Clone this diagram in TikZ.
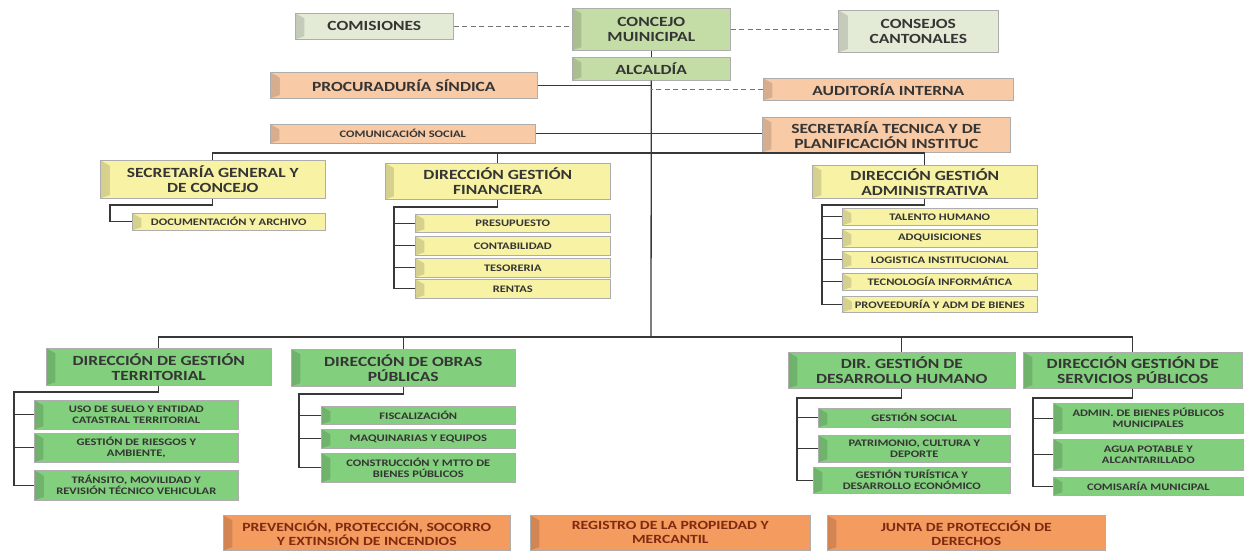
\documentclass[tikz,border=0pt]{standalone}
\usepackage{fontspec}
\setmainfont{Carlito}[FakeStretch=1.25]
\usetikzlibrary{calc}
\definecolor{lgr}{HTML}{E3EBD6}
\definecolor{mgr}{HTML}{C4DDA6}
\definecolor{pch}{HTML}{F8CAA6}
\definecolor{yel}{HTML}{F7F2A4}
\definecolor{grn}{HTML}{82CF7D}
\definecolor{org}{HTML}{F49B60}
\definecolor{txt}{HTML}{353535}
\definecolor{otx}{HTML}{7D2A10}
\newcommand\myhd{\bfseries\fontsize{14}{15}\selectfont}
\newcommand\mysb{\bfseries\fontsize{10}{11}\selectfont}
\newcommand\mybt{\bfseries\fontsize{12.5}{14}\selectfont}
\begin{document}
\begin{tikzpicture}[x=1pt,y=-1pt,
  bx/.style 2 args={draw=black!32, line width=0.6pt, fill=#1, text=#2, align=center,
    inner sep=1pt, anchor=north west,
    path picture={\shade[left color=#1!86!black, right color=#1]
      (path picture bounding box.north west) -- ([xshift=9pt,yshift=-5pt]path picture bounding box.north west)
      -- ([xshift=9pt,yshift=3pt]path picture bounding box.south west) -- (path picture bounding box.south west) -- cycle;}},
  conn/.style={line width=1.3pt, draw=black!78},
  dsh/.style={line width=1pt, draw=black!55, dash pattern=on 5pt off 3.5pt},
  hd/.style={font=\myhd},
  sb/.style={font=\mysb},
  bt/.style={font=\mybt},
  wh/.style 2 args={minimum width=#1pt, minimum height=#2pt}
]
\useasboundingbox (0,0) rectangle (1245,552);
% ---------- top ----------
\node[bx={lgr}{txt}, hd, wh={158}{26}] (com) at (295,13) {COMISIONES};
\node[bx={mgr}{txt}, hd, wh={158}{42}] (conc) at (572,8) {CONCEJO\\MUINICIPAL};
\node[bx={lgr}{txt}, hd, wh={160}{42}] (cons) at (838,10) {CONSEJOS\\CANTONALES};
\node[bx={mgr}{txt}, hd, wh={158}{23}] (alc) at (572,57) {ALCALDÍA};
\node[bx={pch}{txt}, hd, wh={267}{26}] (proc) at (270,72) {PROCURADURÍA SÍNDICA};
\node[bx={pch}{txt}, hd, wh={250}{22}] (aud) at (763,78) {AUDITORÍA INTERNA};
\node[bx={pch}{txt}, sb, wh={265}{19}] (comu) at (270,124) {COMUNICACIÓN SOCIAL};
\node[bx={pch}{txt}, hd, wh={248}{35}] (stec) at (762,117) {SECRETARÍA TECNICA Y DE\\PLANIFICACIÓN INSTITUC};
% ---------- yellow ----------
\node[bx={yel}{txt}, hd, wh={225}{38}] (sg) at (100,160) {SECRETARÍA GENERAL Y\\DE CONCEJO};
\node[bx={yel}{txt}, hd, wh={225}{36}] (dgf) at (385,163) {DIRECCIÓN GESTIÓN\\FINANCIERA};
\node[bx={yel}{txt}, hd, wh={225}{33}] (dga) at (812,165) {DIRECCIÓN GESTIÓN\\ADMINISTRATIVA};
\node[bx={yel}{txt}, sb, wh={193}{17}] (doc) at (132,213) {DOCUMENTACIÓN Y ARCHIVO};
\node[bx={yel}{txt}, sb, wh={195}{18}] (pres) at (415,214) {PRESUPUESTO};
\node[bx={yel}{txt}, sb, wh={195}{19}] (cont) at (415,236) {CONTABILIDAD};
\node[bx={yel}{txt}, sb, wh={195}{19}] (teso) at (415,258) {TESORERIA};
\node[bx={yel}{txt}, sb, wh={195}{19}] (rent) at (415,279) {RENTAS};
\node[bx={yel}{txt}, sb, wh={195}{17}] (tal) at (842,208) {TALENTO HUMANO};
\node[bx={yel}{txt}, sb, wh={195}{18}] (adq) at (842,229) {ADQUISICIONES};
\node[bx={yel}{txt}, sb, wh={195}{17}] (logi) at (842,251) {LOGISTICA INSTITUCIONAL};
\node[bx={yel}{txt}, sb, wh={195}{17}] (tec) at (842,273) {TECNOLOGÍA INFORMÁTICA};
\node[bx={yel}{txt}, sb, wh={195}{16}] (prov) at (842,296) {PROVEEDURÍA Y ADM DE BIENES};
% ---------- green ----------
\node[bx={grn}{txt}, hd, wh={225}{37}] (dgt) at (46,348) {DIRECCIÓN DE GESTIÓN\\TERRITORIAL};
\node[bx={grn}{txt}, hd, wh={224}{37}] (dop) at (291,349) {DIRECCIÓN DE OBRAS\\PÚBLICAS};
\node[bx={grn}{txt}, hd, wh={227}{36}] (dgdh) at (788,352) {DIR. GESTIÓN DE\\DESARROLLO HUMANO};
\node[bx={grn}{txt}, hd, wh={219}{36}] (dgsp) at (1023,352) {DIRECCIÓN GESTIÓN DE\\SERVICIOS PÚBLICOS};
\node[bx={grn}{txt}, sb, wh={204}{29}] (uso) at (34,400) {USO DE SUELO Y ENTIDAD\\CATASTRAL TERRITORIAL};
\node[bx={grn}{txt}, sb, wh={204}{29}] (rie) at (34,433) {GESTIÓN DE RIESGOS Y\\AMBIENTE,};
\node[bx={grn}{txt}, sb, wh={204}{30}] (tra) at (34,470) {TRÁNSITO, MOVILIDAD Y\\REVISIÓN TÉCNICO VEHICULAR};
\node[bx={grn}{txt}, sb, wh={194}{18}] (fis) at (321,406) {FISCALIZACIÓN};
\node[bx={grn}{txt}, sb, wh={194}{19}] (maq) at (321,429) {MAQUINARIAS Y EQUIPOS};
\node[bx={grn}{txt}, sb, wh={194}{29}] (cmt) at (321,453) {CONSTRUCCIÓN Y MTTO DE\\BIENES PÚBLICOS};
\node[bx={grn}{txt}, sb, wh={192}{19}] (gs) at (818,408) {GESTIÓN SOCIAL};
\node[bx={grn}{txt}, sb, wh={192}{27}] (pat) at (818,435) {PATRIMONIO, CULTURA Y\\DEPORTE};
\node[bx={grn}{txt}, sb, wh={197}{26}] (tur) at (813,467) {GESTIÓN TURÍSTICA Y\\DESARROLLO ECONÓMICO};
\node[bx={grn}{txt}, sb, wh={190}{30}] (adm) at (1053,403) {ADMIN. DE BIENES PÚBLICOS\\MUNICIPALES};
\node[bx={grn}{txt}, sb, wh={190}{31}] (agua) at (1053,439) {AGUA POTABLE Y\\ALCANTARILLADO};
\node[bx={grn}{txt}, sb, wh={190}{18}] (comis) at (1053,477) {COMISARÍA MUNICIPAL};
% ---------- bottom ----------
\node[bx={org}{otx}, bt, wh={287}{35}] (prev) at (223,515) {PREVENCIÓN, PROTECCIÓN, SOCORRO\\Y EXTINSIÓN DE INCENDIOS};
\node[bx={org}{otx}, bt, wh={280}{35}] (reg) at (530,515) {REGISTRO DE LA PROPIEDAD Y\\MERCANTIL};
\node[bx={org}{otx}, bt, wh={278}{35}] (jun) at (827,515) {JUNTA DE PROTECCIÓN DE\\DERECHOS};
% ---------- coordinates ----------
\coordinate (trunkend) at (651,337);
\coordinate (bus1) at (0,153);
\coordinate (bus2) at (0,337);
\coordinate (sgsp) at (110,205);
\coordinate (dgfsp) at (394,207);
\coordinate (dgasp) at (822,205);
\coordinate (dgtsp) at (14,392);
\coordinate (dopsp) at (299,394);
\coordinate (dgdhsp) at (797,398);
\coordinate (dgspsp) at (1033,398);
% ---------- connectors ----------
\draw[dsh] (com.east) -- (conc.west |- com.east);
\draw[dsh] (conc.east) -- (cons.west |- conc.east);
\draw[conn] (conc.south) -- (alc.north);
\draw[conn] (alc.south) -- (trunkend);
\draw[conn] (proc.east) -- (proc.east -| trunkend);
\draw[dsh] (aud.west) -- (aud.west -| trunkend);
\draw[conn] (comu.east) -- (comu.east -| stec.west);
\draw[conn] (sg.north) -- (sg.north |- bus1) -- (dga.north |- bus1) -- (dga.north);
\draw[conn] (dgf.north) -- (dgf.north |- bus1);
\draw[conn] (sg.south) |- (sgsp) |- (doc.west);
\draw[conn] (dgf.south) |- (dgfsp) |- (rent.west);
\foreach \n in {pres,cont,teso} \draw[conn] (dgfsp |- \n.west) -- (\n.west);
\draw[conn] (dga.south) |- (dgasp) |- (prov.west);
\foreach \n in {tal,adq,logi,tec} \draw[conn] (dgasp |- \n.west) -- (\n.west);
\draw[conn] (dgt.north) -- (dgt.north |- bus2) -- (dgsp.north |- bus2) -- (dgsp.north);
\draw[conn] (dop.north) -- (dop.north |- bus2);
\draw[conn] (dgdh.north) -- (dgdh.north |- bus2);
\draw[conn] (dgt.south) |- (dgtsp) |- (tra.west);
\foreach \n in {uso,rie} \draw[conn] (dgtsp |- \n.west) -- (\n.west);
\draw[conn] (dop.south) |- (dopsp) |- (cmt.west);
\foreach \n in {fis,maq} \draw[conn] (dopsp |- \n.west) -- (\n.west);
\draw[conn] (dgdh.south) |- (dgdhsp) |- (tur.west);
\foreach \n in {gs,pat} \draw[conn] (dgdhsp |- \n.west) -- (\n.west);
\draw[conn] (dgsp.south) |- (dgspsp) |- (comis.west);
\foreach \n in {adm,agua} \draw[conn] (dgspsp |- \n.west) -- (\n.west);
\end{tikzpicture}
\end{document}
